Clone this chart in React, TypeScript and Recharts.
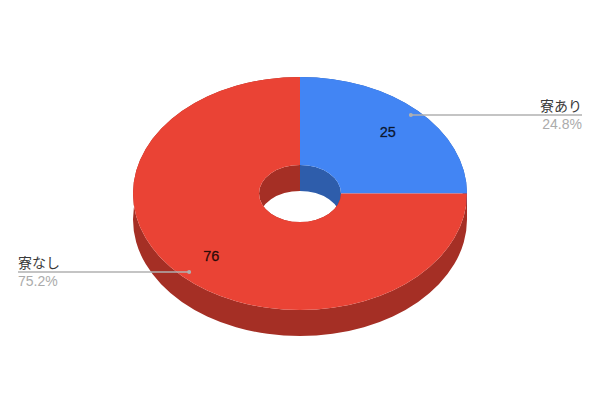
import { Cell, Pie, PieChart } from 'recharts';

const names = ['寮あり', '寮なし'];
const values = [25, 76];
const colors = ['#4285f4', '#ea4335'];
const wallColors = ['#2e5dab', '#a52f25'];

const data = names.map((name, i) => ({ name, value: values[i] }));

// the chart is tilted: vertical radii are squashed, and the walls hang below
const TILT = 0.698;
const DEPTH = 26;
const FONT = '"Liberation Sans", "Noto Sans CJK JP", sans-serif';

const RAD = Math.PI / 180;

// the reference draws its slice edge flat on the horizontal, so pull near-quadrant angles onto it
function snap(deg) {
  const q = Math.round(deg / 90) * 90;
  return Math.abs(deg - q) < 1 ? q : deg;
}

function at(cx, cy, r, deg, drop = 0) {
  return `${cx + r * Math.cos(deg * RAD)} ${cy - r * TILT * Math.sin(deg * RAD) + drop}`;
}

function arc(cx, cy, r, from, to, drop = 0) {
  const large = Math.abs(from - to) > 180 ? 1 : 0;
  const sweep = from > to ? 1 : 0;
  return `A ${r} ${r * TILT} 0 ${large} ${sweep} ${at(cx, cy, r, to, drop)}`;
}

function band(cx, cy, r, a, b) {
  return [
    `M ${at(cx, cy, r, a)}`,
    arc(cx, cy, r, a, b),
    `L ${at(cx, cy, r, b, DEPTH)}`,
    arc(cx, cy, r, b, a, DEPTH),
    'Z',
  ].join(' ');
}

const WallShape = ({ cx, cy, innerRadius, outerRadius, startAngle, endAngle, index }) => {
  const a = snap(startAngle);
  const b = snap(endAngle);
  return (
    <g>
      <path d={band(cx, cy, outerRadius, a, b)} fill={wallColors[index]} />
      <path d={band(cx, cy, innerRadius, a, b)} fill={wallColors[index]} />
    </g>
  );
};

const TopShape = ({ cx, cy, innerRadius, outerRadius, startAngle, endAngle, index }) => {
  const a = snap(startAngle);
  const b = snap(endAngle);
  return (
    <path
      fill={colors[index]}
      d={[
        `M ${at(cx, cy, outerRadius, a)}`,
        arc(cx, cy, outerRadius, a, b),
        `L ${at(cx, cy, innerRadius, b)}`,
        arc(cx, cy, innerRadius, b, a),
        'Z',
      ].join(' ')}
    />
  );
};

const SliceLabel = ({ cx, cy, midAngle, percent, value, name }) => {
  const cos = Math.cos(midAngle * RAD);
  const sin = Math.sin(midAngle * RAD);
  const right = cos > 0;
  const dotX = cx + 158 * cos;
  const dotY = cy - 158 * TILT * sin;
  const endX = right ? 582 : 18;
  const anchor = right ? 'end' : 'start';
  return (
    <g style={{ fontFamily: FONT, fontSize: 14 }}>
      <text
        x={cx + 125 * cos - (right ? 0 : 1)}
        y={cy - 125 * TILT * sin + 0.5}
        textAnchor="middle"
        dominantBaseline="central"
        fill="#000"
        fillOpacity={0.8}
        stroke="#000"
        strokeOpacity={0.6}
        strokeWidth={0.4}
        fontSize={14.5}
      >
        {value}
      </text>
      <line x1={dotX} y1={dotY} x2={endX} y2={dotY} stroke="#b0b0b0" strokeWidth={1.5} />
      <circle cx={dotX} cy={dotY} r={2} fill="#b0b0b0" />
      <text x={endX} y={dotY - 4} textAnchor={anchor} fill="#3a3a3a">
        {name}
      </text>
      <text x={endX} y={dotY + 14} textAnchor={anchor} fill="#ababab">
        {`${(percent * 100).toFixed(1)}%`}
      </text>
    </g>
  );
};

export default function App() {
  return (
    <div style={{ position: 'absolute', left: 0, top: 0, width: 600, height: 415, background: '#fff' }}>
      <PieChart width={600} height={415} margin={{ top: 0, right: 0, bottom: 0, left: 0 }}>
        <Pie
          data={data}
          dataKey="value"
          nameKey="name"
          cx={300}
          cy={193.5}
          innerRadius={41}
          outerRadius={167}
          startAngle={90}
          endAngle={-270}
          stroke="none"
          shape={WallShape}
          isAnimationActive={false}
        >
          {data.map((d, i) => (
            <Cell key={d.name} fill={wallColors[i]} />
          ))}
        </Pie>
        <Pie
          data={data}
          dataKey="value"
          nameKey="name"
          cx={300}
          cy={193.5}
          innerRadius={41}
          outerRadius={167}
          startAngle={90}
          endAngle={-270}
          stroke="none"
          shape={TopShape}
          label={SliceLabel}
          labelLine={false}
          isAnimationActive={false}
        >
          {data.map((d, i) => (
            <Cell key={d.name} fill={colors[i]} />
          ))}
        </Pie>
      </PieChart>
    </div>
  );
}
